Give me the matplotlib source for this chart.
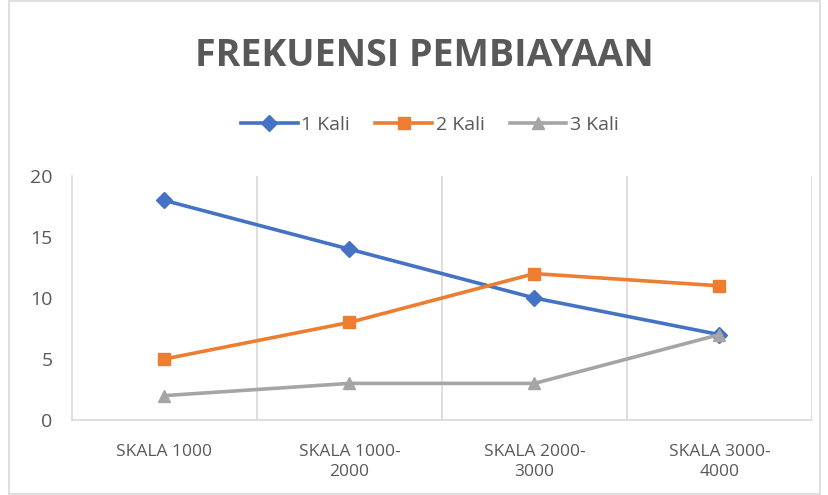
import matplotlib
matplotlib.use("Agg")
import matplotlib.pyplot as plt
from matplotlib.patches import Rectangle

# data
categories = ["SKALA 1000", "SKALA 1000-\n2000", "SKALA 2000-\n3000", "SKALA 3000-\n4000"]
kali_1 = [18, 14, 10, 7]
kali_2 = [5, 8, 12, 11]
kali_3 = [2, 3, 3, 7]
series_names = ["1 Kali", "2 Kali", "3 Kali"]
y_ticks = [0, 5, 10, 15, 20]

plt.rcParams['font.family'] = ['Open Sans', 'DejaVu Sans']
text_color = '#595959'
grid_color = '#d9d9d9'

fig = plt.figure(figsize=(8.29, 4.95), dpi=100)
ax = fig.add_axes([72 / 829, 1 - 420 / 495, 740 / 829, 244 / 495])

x = list(range(len(categories)))
ax.plot(x, kali_1, color='#4472C4', lw=2.6, marker='D', ms=8, label=series_names[0])
ax.plot(x, kali_2, color='#ED7D31', lw=2.6, marker='s', ms=9, label=series_names[1])
ax.plot(x, kali_3, color='#A5A5A5', lw=2.6, marker='^', ms=9, label=series_names[2])

ax.set_xlim(-0.5, len(categories) - 0.5)
ax.set_ylim(0, 20)
ax.set_yticks(y_ticks)
ax.set_xticks(x)
ax.set_xticklabels(categories, linespacing=1.4)

# vertical gridlines at category boundaries
for b in range(1, len(categories) + 1):
    ax.axvline(b - 0.5, color=grid_color, lw=1.2, zorder=0)

for side in ['top', 'right']:
    ax.spines[side].set_visible(False)
for side in ['left', 'bottom']:
    ax.spines[side].set_color(grid_color)
    ax.spines[side].set_linewidth(1.2)

ax.tick_params(axis='both', length=0, colors=text_color)
ax.tick_params(axis='y', labelsize=14, pad=14)
ax.tick_params(axis='x', labelsize=12.5, pad=17)

fig.text(424 / 829, 1 - 56 / 495, "FREKUENSI PEMBIAYAAN", ha='center', va='center',
         fontsize=27, fontweight='bold', color=text_color)

leg = fig.legend(loc='center', bbox_to_anchor=(430 / 829, 1 - 125 / 495), ncol=3,
                 frameon=False, fontsize=14, handlelength=2.9, columnspacing=1.3,
                 handletextpad=0.2)
for t in leg.get_texts():
    t.set_color(text_color)

# outer frame
fig.patches.append(Rectangle((9 / 829, 0.002), 1 - 18 / 829, 0.996, transform=fig.transFigure,
                             fill=False, edgecolor=grid_color, lw=1.2))

fig.savefig("out.png", dpi=100)
